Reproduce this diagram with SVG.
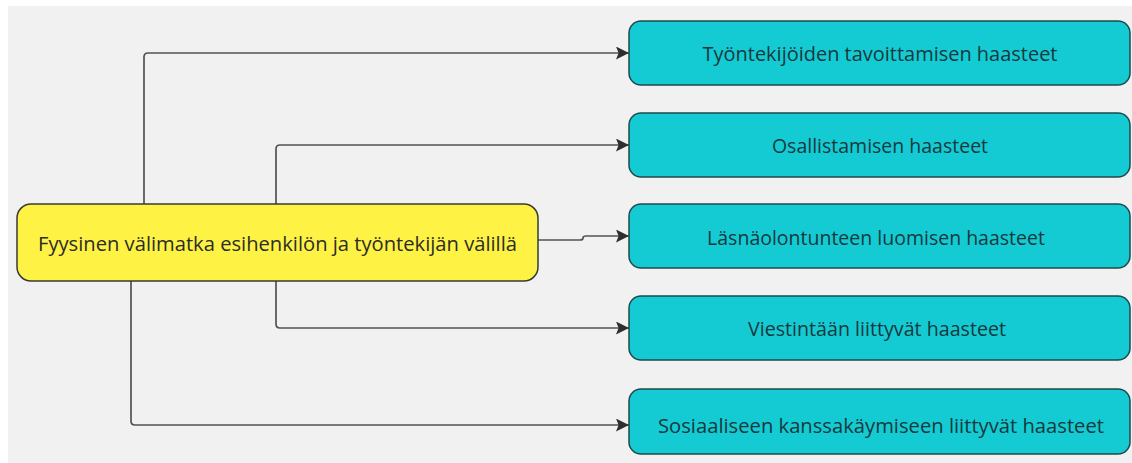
<svg xmlns="http://www.w3.org/2000/svg" width="1132" height="463" viewBox="0 0 1132 463">
  <style>
    .bg { fill: #f1f1f1; }
    .hub { fill: #fef245; stroke: #3a3a32; stroke-width: 1.5; }
    .leaf { fill: #14cbd3; stroke: #1e4a4e; stroke-width: 1.5; }
    .label { font-family: "Open Sans", "Noto Sans", sans-serif; font-size: 19.5px; text-anchor: middle; dominant-baseline: central; }
    .hub-label { fill: #2c2c26; }
    .leaf-label { fill: #16393d; }
    .wire { fill: none; stroke: #4f5456; stroke-width: 1.7; marker-end: url(#arrow); }
  </style>
  <defs>
    <marker id="arrow" viewBox="0 0 10 10" refX="10" refY="5" markerWidth="13" markerHeight="13" markerUnits="userSpaceOnUse" orient="auto">
      <path d="M0,0 L10,5 L0,10 L2,5 Z" fill="#2e2e2e"/>
    </marker>
  </defs>

  <rect x="0" y="0" width="1132" height="463" fill="#ffffff"/>
  <rect class="bg" x="8" y="6" width="1124" height="457"/>

  <g id="connectors">
    <path class="wire" d="M144,204 V57 Q144,53 148,53 H629"/>
    <path class="wire" d="M276,204 V149 Q276,145 280,145 H629"/>
    <path class="wire" d="M538,240 H580 Q583,240 583,238 Q583,236 586,236 H629"/>
    <path class="wire" d="M276,281 V324 Q276,328 280,328 H629"/>
    <path class="wire" d="M131,281 V421 Q131,425 135,425 H629"/>
  </g>

  <g id="node-hub">
    <rect class="hub" x="17" y="204" width="521" height="77" rx="14"/>
    <text class="label hub-label" x="277.5" y="243" textLength="479" lengthAdjust="spacingAndGlyphs">Fyysinen välimatka esihenkilön ja työntekijän välillä</text>
  </g>

  <g id="node-reach">
    <rect class="leaf" x="629" y="21" width="501" height="64" rx="12"/>
    <text class="label leaf-label" x="880" y="53" textLength="355" lengthAdjust="spacingAndGlyphs">Työntekijöiden tavoittamisen haasteet</text>
  </g>

  <g id="node-inclusion">
    <rect class="leaf" x="629" y="113" width="501" height="64" rx="12"/>
    <text class="label leaf-label" x="880" y="145">Osallistamisen haasteet</text>
  </g>

  <g id="node-presence">
    <rect class="leaf" x="629" y="204" width="501" height="64" rx="12"/>
    <text class="label leaf-label" x="876" y="237">Läsnäolontunteen luomisen haasteet</text>
  </g>

  <g id="node-communication">
    <rect class="leaf" x="629" y="296" width="501" height="64" rx="12"/>
    <text class="label leaf-label" x="877" y="328" textLength="258" lengthAdjust="spacingAndGlyphs">Viestintään liittyvät haasteet</text>
  </g>

  <g id="node-social">
    <rect class="leaf" x="629" y="389" width="501" height="65" rx="12"/>
    <text class="label leaf-label" x="881" y="425" textLength="446" lengthAdjust="spacingAndGlyphs">Sosiaaliseen kanssakäymiseen liittyvät haasteet</text>
  </g>
</svg>
